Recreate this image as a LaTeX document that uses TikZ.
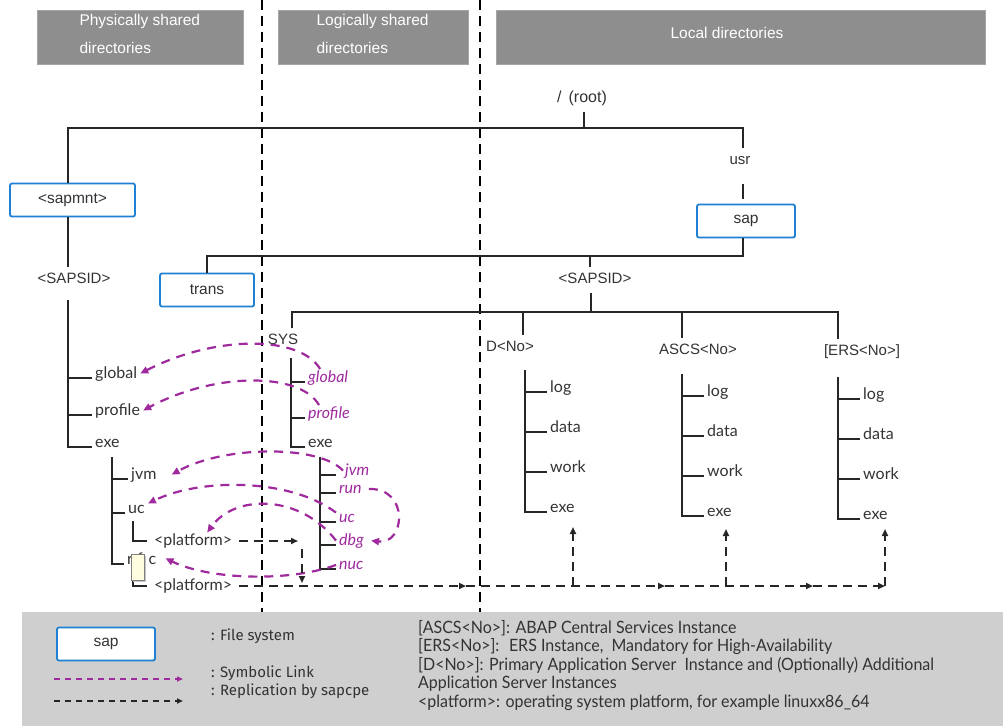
\documentclass[tikz,border=0pt]{standalone}
\usepackage{fontspec}
\setmainfont{Liberation Sans}
\newfontfamily\leaffont{Lato}
\newfontfamily\legfont{Fira Sans}
\newfontfamily\notefont[FakeStretch=0.94]{Lato}
\usetikzlibrary{arrows.meta,positioning}

\definecolor{hdrgray}{HTML}{8E8E8E}
\definecolor{legbg}{HTML}{CFCFCF}
\definecolor{fsblue}{HTML}{1F80D4}
\definecolor{linkpurple}{HTML}{9E2A9E}
\definecolor{txtgray}{HTML}{333333}
\definecolor{noteyellow}{HTML}{FFFDE0}

\begin{document}
\begin{tikzpicture}[x=1pt, y=-1pt,
  hdr/.style={fill=hdrgray, draw=hdrgray!80, inner sep=0pt},
  hdrtxt/.style={text=white, align=left, font=\fontsize{15.5}{28}\selectfont},
  fsbox/.style={draw=fsblue, line width=1.8pt, rounded corners=2pt, fill=white, minimum height=33pt, text=txtgray, font=\fontsize{15.5}{18}\selectfont},
  lbl/.style={text=txtgray, font=\fontsize{15}{18}\selectfont, text height=10pt, text depth=3pt, inner ysep=6pt, inner xsep=2pt},
  leaf/.style={anchor=base west, inner xsep=3pt, inner ysep=1pt, text=txtgray, font=\leaffont\fontsize{16}{18}\selectfont},
  link/.style={leaf, text=linkpurple, font=\leaffont\itshape\fontsize{16}{18}\selectfont},
  tree/.style={line width=2.4pt, black!85},
  sep/.style={line width=2.4pt, dash pattern=on 10pt off 6pt},
  symlink/.style={linkpurple, line width=2.2pt, dash pattern=on 9pt off 7pt, -{Triangle[length=8pt,width=7pt]}},
  repl/.style={black!85, line width=2.2pt, dash pattern=on 9pt off 6pt, -{Triangle[length=7pt,width=6pt]}},
  legtxt/.style={text=txtgray, font=\legfont\fontsize{15}{17}\selectfont, inner sep=0pt},
  notetxt/.style={text=txtgray, align=left, font=\notefont\fontsize{17}{18.5}\selectfont, inner sep=0pt},
  notemark/.style={fill=noteyellow, draw=gray, line width=0.6pt},
]
\useasboundingbox (0,0) rectangle (1003,726);

% header bars
\node[hdr, minimum width=206pt, minimum height=54pt] (hphys) at (140,37) {};
\node[hdrtxt, anchor=west] (hphystxt) at (76,34) {Physically shared\\directories};
\node[hdr, minimum width=190pt, minimum height=54pt] (hlog) at (373,37) {};
\node[hdrtxt, anchor=west] (hlogtxt) at (313,34) {Logically shared\\directories};
\node[hdr, minimum width=489pt, minimum height=54pt] (hloc) at (740.5,37) {};
\node[hdrtxt] (hloctxt) at (727,33) {Local directories};

% legend background and separators
\fill[legbg] (22,612) rectangle (1003,726);
\draw[sep] (262,0) -- (262,612);
\draw[sep] (480,0) -- (480,612);

% root level
\node[lbl, font=\fontsize{16}{18}\selectfont] (root) at (582,99) {/ \,(root)};
\coordinate (rootbar) at (584,128);
\node[fsbox, minimum width=125pt] (sapmnt) at (72.5,200) {<sapmnt>};
\node[lbl] (usr) at (740,161) {usr};
\node[fsbox, minimum width=98pt] (sap) at (746,221) {sap};
\draw[tree] (root.south -| rootbar) -- (rootbar);
\draw[tree] ([xshift=-4.5pt]sapmnt.north) |- (rootbar) -| ([xshift=3pt]usr.north);
\draw[tree, shorten <=10pt, shorten >=5pt] ([xshift=3pt]usr.south) -- ([xshift=-3pt]sap.north);

% sapmnt and usr/sap level
\node[lbl] (sid1) at (74,280) {<SAPSID>};
\draw[tree] ([xshift=-4.5pt]sapmnt.south) -- ([xshift=-6pt]sid1.north);
\node[fsbox, minimum width=94pt] (trans) at (207,290) {trans};
\node[lbl] (sid2) at (595,280) {<SAPSID>};
\coordinate (sapbar) at (590,256);
\draw[tree] (trans.north) |- (sapbar) -| ([xshift=-3pt]sap.south);
\draw[tree] (sapbar) -- (sapbar |- sid2.north);

% instance level
\coordinate (sid2bar) at (591,312);
\draw[tree] (sid2.south -| sid2bar) -- (sid2bar);
\node[lbl] (sys) at (283,341) {SYS};
\node[lbl] (dno) at (510,348) {D<No>};
\node[lbl] (ascs) at (698,351) {ASCS<No>};
\node[lbl] (ers) at (862,352) {[ERS<No>]};
\coordinate (dnotop) at ([xshift=13pt]dno.north);
\coordinate (ascstop) at ([xshift=-16pt]ascs.north);
\draw[tree] ([xshift=9pt]sys.north) |- (sid2bar) -| ([xshift=-24pt]ers.north);
\draw[tree] (dnotop) -- (dnotop |- sid2bar);
\draw[tree] (ascstop) -- (ascstop |- sid2bar);

% physically shared tree
\coordinate (ptop) at (68,300);
\node[leaf] (pglobal) at (92,378) {global};
\node[leaf] (pprofile) at (92,415) {profile};
\node[leaf] (pexe) at (92,447) {exe};
\foreach \n in {pglobal,pprofile,pexe} \draw[tree] (ptop) |- (\n.base west);
\coordinate (pxtop) at (112,457);
\node[leaf] (pjvm) at (128,479) {jvm};
\node[leaf] (puc) at (125,513) {uc};
\node[leaf] (prfc) at (124,564) {r\kern4pt f\kern6pt c};
\foreach \n in {pjvm,puc,prfc} \draw[tree] (pxtop) |- (\n.base west);
\coordinate (puctop) at (133,521);
\coordinate (prfctop) at (133,570);
\node[leaf, anchor=west, inner xsep=7pt] (pplat1) at (147,541) {<platform>};
\node[leaf, anchor=west, inner xsep=7pt] (pplat2) at (147,586) {<platform>};
\draw[tree] (puctop) |- (pplat1.west);
\draw[tree] (prfctop) |- (pplat2.west);
\fill[gray!45] (133,556) rectangle (146,582);
\draw[notemark] (131,554) rectangle (144,580);

% logically shared tree
\coordinate (ltop) at (291,358);
\node[link] (lglobal) at (305,382) {global};
\node[link] (lprofile) at (305,418) {profile};
\node[leaf] (lexe) at (305,447) {exe};
\foreach \n in {lglobal,lprofile,lexe} \draw[tree] (ltop) |- (\n.base west);
\coordinate (lxtop) at (320,457);
\node[link] (ljvm) at (336,475) {\kern6pt jvm};
\node[link] (lrun) at (336,493) {run};
\node[link] (luc) at (336,522) {uc};
\node[link] (ldbg) at (336,545) {dbg};
\node[link] (lnuc) at (336,569) {nuc};
\foreach \n in {ljvm,lrun,luc,ldbg,lnuc} \draw[tree] (lxtop) |- (\n.base west);

% local instance trees
\foreach \c/\x/\y in {d/525/370,a/682/374,e/838/377}{
  \coordinate (\c-top) at (\x,\y);
  \node[leaf] (\c-log) at (\x+22,\y+22) {log};
  \node[leaf] (\c-data) at (\x+22,\y+62) {data};
  \node[leaf] (\c-work) at (\x+22,\y+102) {work};
  \node[leaf] (\c-exe) at (\x+22,\y+142) {exe};
  \foreach \n in {log,data,work,exe} \draw[tree] (\c-top) |- (\c-\n.base west);
}

% symbolic links
\draw[symlink] ([xshift=-8pt]lglobal.north) .. controls (300,335) and (215,335) .. (pglobal.east);
\draw[symlink] ([xshift=-10pt]lprofile.north) .. controls (300,372) and (215,372) .. (pprofile.east);
\draw[symlink] ([xshift=7pt]ljvm.west) .. controls (320,445) and (225,445) .. ([xshift=12pt]pjvm.east);
\draw[symlink] (luc.north west) .. controls (290,478) and (200,478) .. (puc.north east);
\draw[symlink] (ldbg.west) .. controls (300,494) and (235,494) .. ([xshift=14pt]pplat1.north);
\draw[symlink] ([xshift=4pt]lrun.east) .. controls (410,488) and (405,545) .. ([xshift=4pt]ldbg.east);
\draw[symlink] (lnuc.west) .. controls (290,582) and (210,580) .. ([xshift=6pt]prfc.east);

% replication by sapcpe
\coordinate (rp1) at (298,541);
\coordinate (rp2) at (302,549);
\coordinate (rp3) at (302,583);
\draw[repl] (pplat1.east) -- (rp1);
\draw[repl] (rp2) -- (rp3);
\coordinate (rb1) at (466,586);
\coordinate (rb2) at (665,586);
\coordinate (rb3) at (813,586);
\coordinate (rb4) at (885,586);
\coordinate (dup) at (573,527);
\coordinate (aup) at (726,529);
\coordinate (eup) at (885,529);
\draw[repl] (pplat2.east) -- (rb1);
\draw[repl] (rb1) -- (rb2);
\draw[repl] (rb2) -- (rb3);
\draw[repl] (rb3) -- (rb4);
\draw[repl] (dup |- rb1) -- (dup);
\draw[repl] (aup |- rb1) -- (aup);
\draw[repl] (rb4) -- (eup);

% legend
\node[fsbox, minimum width=98pt] (legsap) at (106,644) {sap};
\node[legtxt, anchor=west] (legfs) at (211,636) {: File system};
\node[legtxt, anchor=west] (legsym) at (211,673) {: Symbolic Link};
\node[legtxt, anchor=west] (legrep) at (211,691) {: Replication by sapcpe};
\coordinate (legsyma) at (54,679);
\coordinate (legsymb) at (183,679);
\coordinate (legrepa) at (54,701);
\coordinate (legrepb) at (183,701);
\draw[symlink, line width=1.6pt, dash pattern=on 6pt off 5pt, -{Triangle[length=6pt,width=5pt]}] (legsyma) -- (legsymb);
\draw[repl, line width=1.6pt, dash pattern=on 6pt off 5pt, -{Triangle[length=6pt,width=5pt]}] (legrepa) -- (legrepb);
\node[notetxt, anchor=north west] (legnote) at (418,620) {[ASCS<No>]: ABAP Central Services Instance\\
  {[ERS<No>]}:~ ERS Instance,~ Mandatory for High-Availability\\
  {[D<No>]}: Primary Application Server~ Instance and (Optionally) Additional\\
  Application Server Instances\\
  <platform>: operating system platform, for example linuxx86\_64};
\end{tikzpicture}
\end{document}
